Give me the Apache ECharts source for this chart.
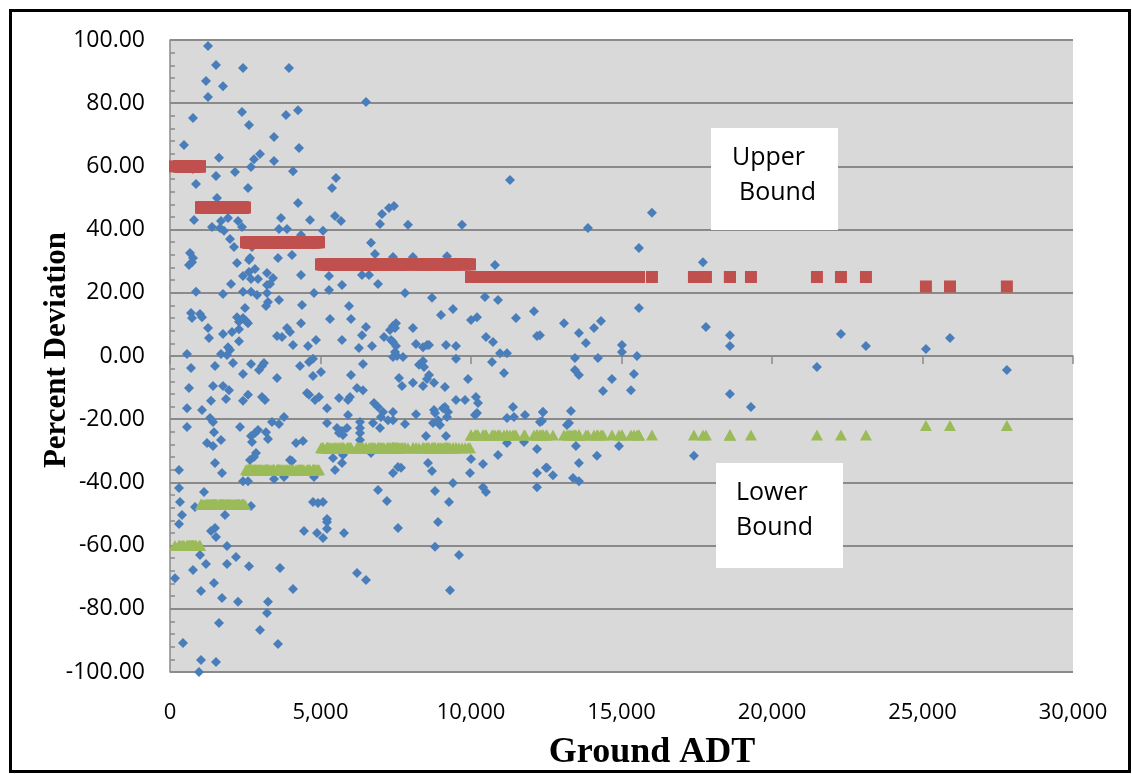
<!DOCTYPE html>
<html>
<head>
<meta charset="utf-8">
<script src="https://cdn.jsdelivr.net/npm/echarts@6/dist/echarts.min.js"></script>
<style>html,body{margin:0;padding:0;background:#fff}#c{width:1132px;height:774px}</style>
</head>
<body>
<div id="c"></div>
<script>
// Ground ADT of each observation
const groundAdt = [
1262,1528,2425,3953,1196,1761,1262,6511,764,2392,2624,3853,4252,3455,465,4285,1628,2790,2990,3455,
764,2691,2159,4086,1528,864,2591,5382,5515,1561,4252,7441,7275,7043,6976,797,1395,1694,1927,1661,
1794,2259,2392,3687,3621,3887,4651,5083,5482,5681,1993,2126,2724,4352,6677,6810,664,764,7408,2657,
3588,4053,11295,7906,9700,8072,9202,16012,13886,15580,17706,15580,13089,14318,14086,13587,13819,17806,18603,18603,
22291,23121,25114,15015,15015,15514,12291,13454,14218,13454,13587,14683,15414,14385,15314,21493,18603,19301,12391,13321,
12358,13255,13188,13487,14916,14185,17407,13587,12490,12723,13388,13587,25913,27803,631,731,2226,2624,2425,2691,
2624,2824,2923,3222,3421,3322,3222,2026,864,1761,2425,2691,2890,3222,3256,3189,3621,4352,4784,5282,
5282,5714,6378,6611,6910,7807,8704,10797,10464,10897,698,731,997,1063,1262,1296,1761,2226,2292,2425,
2525,2591,2491,2059,2292,2292,1927,1993,1894,2093,1694,565,698,1495,631,565,565,1063,1428,1761,
1960,1860,1362,1329,1428,1462,1229,1428,1694,1495,1727,1827,2325,2425,2591,2425,2691,3056,3156,2957,
3056,3122,3555,2691,2824,2923,2724,3189,3256,2857,2791,2657,2425,2591,3388,3621,3787,3455,3787,3987,
4053,4186,4418,4784,3555,3721,3887,3987,4086,4319,4618,4750,4750,5016,4850,4584,4385,4352,4551,4618,
4817,4950,5216,5216,5315,5714,5946,6013,6013,6212,6411,6278,6411,6511,6378,6711,5614,5913,5980,5913,
5548,5714,5880,5747,5614,6312,6312,6312,6312,5747,5714,5415,5482,5083,4917,4750,5216,6777,6910,7076,
7009,6744,6976,7242,7408,7408,6677,7408,7574,7674,6910,7208,7109,7342,7408,7508,7308,7408,7508,7475,
7408,7541,7741,7475,7608,7707,7807,8072,8172,8405,8538,8604,8272,8405,8438,8072,8405,8604,8538,8770,
8172,9135,9169,9501,9003,9401,9501,9501,9800,9135,9069,9235,8770,8804,8737,8903,8969,9202,9169,8504,
8571,8704,8804,9401,9269,9900,10000,10199,10498,10731,10698,11096,10963,11196,11494,12092,12192,10165,10232,10199,
10132,11395,11196,11428,11794,12391,12291,11196,11761,12192,10897,10398,10000,9966,10398,10498,12192,12524,12192,299,
299,1129,332,399,299,166,432,831,2691,1362,1495,1528,1894,997,2193,1196,1894,2624,764,1462,
1030,1727,2259,1628,1528,1030,963,3256,3222,2990,3588,3654,4086,4451,4883,5083,5216,5216,5781,6212,
6511,7574,8903,8804,9601,9302
];
// Percent deviation of each observation
const percentDeviation = [
98.1,92.1,91.1,91.1,87.0,85.4,82.0,80.4,75.3,77.2,73.1,76.3,77.8,69.3,66.8,65.8,62.7,62.3,63.9,61.7,
59.2,59.8,58.2,58.5,57.0,54.4,53.2,53.2,56.3,50.0,48.4,47.5,46.8,44.9,41.8,43.0,40.8,42.7,43.7,40.5,
39.6,42.7,40.8,43.7,40.2,40.2,43.0,39.6,44.3,42.7,37.0,34.5,34.5,38.3,35.8,32.3,32.6,31.0,31.3,31.0,
31.0,32.0,55.7,41.5,41.5,31.3,31.6,45.3,40.5,34.2,29.7,15.2,10.4,11.1,8.9,7.3,4.1,9.2,6.6,3.2,
7.0,3.2,2.2,3.5,1.3,0.0,6.6,-0.6,-0.6,-4.4,-6.0,-7.3,-5.7,-11.1,-10.8,-3.5,-12.0,-16.1,-17.7,-17.4,
-20.6,-21.2,-21.8,-28.5,-28.5,-31.6,-31.6,-33.9,-35.4,-37.7,-38.6,-39.6,5.7,-4.4,28.8,29.7,29.4,30.4,25.3,24.4,
26.6,27.5,24.4,26.3,24.7,22.8,22.5,22.8,20.3,19.6,20.3,20.3,19.3,19.9,17.1,15.8,17.7,25.6,19.9,25.3,
20.9,22.5,25.6,25.6,22.8,19.9,18.4,28.8,18.7,17.7,13.6,12.0,13.3,12.3,8.9,5.7,7.0,12.3,10.8,12.0,
11.1,10.4,15.2,7.6,8.5,4.7,2.8,1.9,0.3,-2.2,0.6,0.6,-3.8,-3.2,-10.1,-16.5,-22.5,-17.1,-9.5,-9.5,
-10.8,-13.6,-14.2,-19.6,-20.9,-24.1,-27.5,-28.5,-26.6,-33.9,-37.0,-50.3,-22.5,-14.2,-12.3,-5.7,-2.5,-13.0,-13.9,-4.4,
-3.2,-2.2,-7.0,-25.3,-24.4,-23.4,-27.2,-24.1,-26.3,-30.7,-32.0,-32.9,-39.6,-39.6,-20.9,-21.5,-19.3,-38.9,-38.3,-32.9,
-33.2,-27.5,-26.9,-38.3,6.3,6.0,8.9,7.6,3.5,-3.2,-1.9,-0.9,-6.3,-5.1,5.1,3.2,16.1,10.4,-11.7,-12.3,
-13.9,-13.0,-16.5,-21.2,11.7,5.1,15.8,11.7,-6.0,-10.1,-10.8,2.5,-2.5,9.2,6.6,3.2,-13.3,-13.9,-13.0,-18.7,
-22.8,-23.7,-22.8,-25.0,-24.4,-20.9,-22.8,-24.4,-26.6,-31.3,-33.9,-32.3,-36.1,-46.2,-46.5,-46.2,-51.6,-14.9,-16.1,-17.7,
-19.3,-21.2,-22.8,-20.3,-17.7,-20.3,-30.7,-37.0,-35.1,-35.4,-42.4,-45.9,6.0,5.1,4.4,3.2,8.2,9.5,10.4,8.9,
-0.3,0.0,-0.3,1.3,-7.0,-9.5,-21.5,8.9,3.8,2.8,3.5,3.5,-2.8,-1.6,-3.5,-8.5,-9.5,-6.0,-7.3,-8.5,
-18.4,-9.8,3.5,3.2,13.0,14.9,-0.9,-13.9,-13.9,-16.1,-16.5,-17.7,-17.1,-18.0,-21.2,-20.3,-21.8,-19.3,-25.3,-25.3,
-33.9,-36.4,-42.7,-40.2,-46.2,-7.3,11.4,12.3,6.0,4.4,-1.9,-5.4,0.9,0.9,12.0,14.2,6.3,-13.0,-14.9,-18.0,
-18.7,-16.1,-19.6,-19.3,-18.7,-17.7,-20.9,-27.5,-27.2,-29.4,-31.3,-34.2,-32.6,-37.0,-41.5,-43.0,-37.0,-35.4,-41.5,-36.1,
-41.8,-43.0,-46.2,-50.3,-53.2,-70.3,-90.8,-47.8,-47.5,-55.4,-54.4,-57.3,-60.1,-63.0,-63.6,-65.8,-65.8,-66.5,-67.7,-71.8,
-74.4,-76.6,-77.8,-84.5,-96.8,-96.2,-100,-77.8,-81.3,-86.7,-91.1,-67.1,-73.7,-55.4,-56.0,-57.6,-54.7,-52.5,-56.0,-68.7,
-70.9,-54.4,-52.5,-60.4,-63.0,-74.1
];
// ADT bin upper edges and the bound read for each bin
const binUpperEdges = [1000, 2500, 5000, 10000, 25000, Infinity];
const upperBoundByBin = [60, 47, 36, 29, 25, 22];
const lowerBoundByBin = [-60, -47, -36, -29, -25, -22];
const yTicks = [-100, -80, -60, -40, -20, 0, 20, 40, 60, 80, 100];
const xTicks = [0, 5000, 10000, 15000, 20000, 25000, 30000];

function binOf(a){ for (let i=0;i<binUpperEdges.length;i++){ if (a < binUpperEdges[i]) return i; } return binUpperEdges.length-1; }
const n = Math.min(groundAdt.length, percentDeviation.length);
const devData = [], upData = [], loData = [];
for (let i=0;i<n;i++){
  devData.push([groundAdt[i], percentDeviation[i]]);
  const b = binOf(groundAdt[i]);
  upData.push([groundAdt[i], upperBoundByBin[b]]);
  loData.push([groundAdt[i], lowerBoundByBin[b]]);
}

const chart = echarts.init(document.getElementById('c'), null, {renderer:'canvas'});
const gridColor = '#8a8a8a';
const lblFont = '"Open Sans", "Noto Sans", sans-serif';
chart.setOption({
  backgroundColor: '#ffffff',
  animation: false,
  grid: { left: 170, right: 59, top: 40, bottom: 102, show: true, backgroundColor: '#d9d9d9', borderWidth: 0 },
  xAxis: {
    type: 'value', min: xTicks[0], max: xTicks[xTicks.length-1], interval: 5000,
    axisLine: { show: true, lineStyle: { color: gridColor, width: 1.5 } },
    axisTick: { show: true, inside: false, length: 8, lineStyle: { color: gridColor, width: 1.5 } },
    splitLine: { show: false },
    axisLabel: { color: '#000', fontFamily: lblFont, fontSize: 22, margin: 30,
      formatter: v => v.toLocaleString('en-US') }
  },
  yAxis: {
    type: 'value', min: yTicks[0], max: yTicks[yTicks.length-1], interval: 20,
    axisLine: { show: true, lineStyle: { color: gridColor, width: 1.5 } },
    axisTick: { show: true, inside: true, length: 5, lineStyle: { color: gridColor, width: 1.5 } },
    minorTick: { show: true, splitNumber: 5, length: 5, lineStyle: { color: gridColor, width: 1.5 } },
    splitLine: { show: true, lineStyle: { color: gridColor, width: 1.8 } },
    axisLabel: { color: '#000', fontFamily: lblFont, fontSize: 23, margin: 25,
      formatter: v => v.toFixed(2) }
  },
  series: [
    { name: 'Percent Deviation', type: 'scatter', data: devData, symbol: 'diamond', symbolSize: 10,
      itemStyle: { color: '#4a7ebb', opacity: 1 }, z: 2 },
    { name: 'Upper Bound', type: 'scatter', data: upData, symbol: 'rect', symbolSize: 12,
      itemStyle: { color: '#c0504d', opacity: 1 }, z: 3 },
    { name: 'Lower Bound', type: 'scatter', data: loData, symbol: 'triangle', symbolSize: [12, 11],
      itemStyle: { color: '#9bbb59', opacity: 1 }, z: 3 }
  ],
  graphic: [
    { type: 'rect', shape: { x: 10.5, y: 10.5, width: 1119, height: 761 }, style: { fill: 'none', stroke: '#000', lineWidth: 3 }, z: 100 },
    { type: 'rect', shape: { x: 711, y: 128, width: 127, height: 102 }, style: { fill: '#ffffff' }, z: 50 },
    { type: 'text', x: 732, y: 158, style: { text: 'Upper', font: '25px "Open Sans", sans-serif', fill: '#000', textAlign: 'left', textVerticalAlign: 'middle' }, z: 51 },
    { type: 'text', x: 739, y: 193, style: { text: 'Bound', font: '25px "Open Sans", sans-serif', fill: '#000', textAlign: 'left', textVerticalAlign: 'middle' }, z: 51 },
    { type: 'rect', shape: { x: 716, y: 463, width: 127, height: 105 }, style: { fill: '#ffffff' }, z: 50 },
    { type: 'text', x: 736, y: 493, style: { text: 'Lower', font: '25px "Open Sans", sans-serif', fill: '#000', textAlign: 'left', textVerticalAlign: 'middle' }, z: 51 },
    { type: 'text', x: 736, y: 528, style: { text: 'Bound', font: '25px "Open Sans", sans-serif', fill: '#000', textAlign: 'left', textVerticalAlign: 'middle' }, z: 51 },
    { type: 'text', x: 57, y: 350, rotation: Math.PI/2, style: { text: 'Percent Deviation', font: 'bold 31px "Liberation Serif", serif', fill: '#000', textAlign: 'center', textVerticalAlign: 'middle' }, z: 51 },
    { type: 'text', x: 652, y: 753, style: { text: 'Ground ADT', font: 'bold 36px "Liberation Serif", serif', fill: '#000', textAlign: 'center', textVerticalAlign: 'middle' }, z: 51 }
  ]
});
</script>
</body>
</html>
